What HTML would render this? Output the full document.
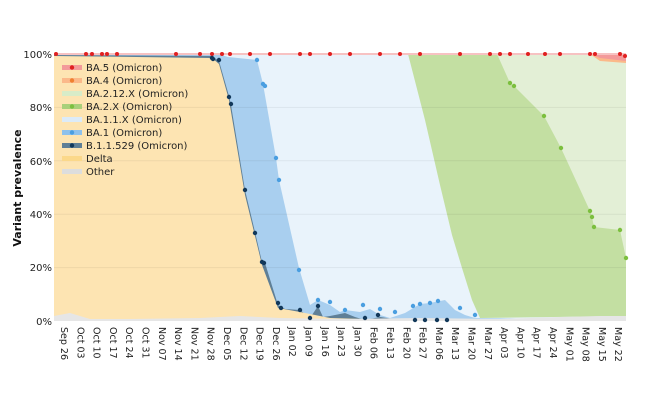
<!DOCTYPE html>
<html><head><meta charset="utf-8"><style>
body{margin:0;background:#fff;}
svg{display:block;font-family:"DejaVu Sans","Liberation Sans",sans-serif;}
</style></head><body>
<svg width="650" height="400" viewBox="0 0 650 400">
<rect x="54" y="54" width="572" height="267" fill="#f39a9a"/>
<polygon fill="#fbb98a" points="54,54 590,54 600,58 626,61 626,321 54,321"/>
<polygon fill="#e3efd6" points="54,54 590,54 600,61 626,63 626,321 54,321"/>
<polygon fill="#c3dfa2" points="54,54 497,54 510,83 514,86 544,116 561,148 590,211 592,217 594,227 620,230 626,258 626,321 54,321"/>
<polygon fill="#e9f3fb" points="54,54 408,54 425,120 440,185 452,235 462,268 472,300 480,318 626,316 626,321 54,321"/>
<polygon fill="#a9cfef" points="54,54 218,54 228,57 257,60 263,84 276,158 279,180 299,268 310,305 318,300 323,302 330,305 340,312 345,310 360,312 370,309 380,315 390,318 405,313 420,304 430,303 445,300 455,310 465,315 475,318 626,320 626,321 54,321"/>
<polygon fill="#5f7f96" points="54,55 212,56 219,61 229,96 231,105 245,190 255,232 262,262 265,263 278,305 285,309 300,310 310,318 318,306 323,317 330,316 345,313 355,317 365,320 380,317 400,320 420,319 626,320 626,321 54,321"/>
<polygon fill="#fde4b2" points="54,56 212,58 219,64 229,100 245,195 255,236 262,265 278,308 300,312 330,318 400,320 626,321 54,321"/>
<polygon fill="#e6e6e6" points="54,316 70,313 90,319 130,319 200,318 240,316 280,318 350,319 420,318 500,319 560,317 600,316 626,316 626,321 54,321"/>
<g stroke="#000" stroke-opacity="0.06"><line x1="54" x2="626" y1="107.4" y2="107.4"/><line x1="54" x2="626" y1="160.8" y2="160.8"/><line x1="54" x2="626" y1="214.2" y2="214.2"/><line x1="54" x2="626" y1="267.6" y2="267.6"/></g>
<line x1="54" x2="626" y1="54" y2="54" stroke="#f7c2c2" stroke-width="2"/>
<g fill="#e02020"><circle cx="56" cy="54" r="2"/><circle cx="86" cy="54" r="2"/><circle cx="92" cy="54" r="2"/><circle cx="102" cy="54" r="2"/><circle cx="107" cy="54" r="2"/><circle cx="117" cy="54" r="2"/><circle cx="176" cy="54" r="2"/><circle cx="200" cy="54" r="2"/><circle cx="212" cy="54" r="2"/><circle cx="222" cy="54" r="2"/><circle cx="230" cy="54" r="2"/><circle cx="250" cy="54" r="2"/><circle cx="270" cy="54" r="2"/><circle cx="300" cy="54" r="2"/><circle cx="310" cy="54" r="2"/><circle cx="330" cy="54" r="2"/><circle cx="350" cy="54" r="2"/><circle cx="380" cy="54" r="2"/><circle cx="400" cy="54" r="2"/><circle cx="420" cy="54" r="2"/><circle cx="460" cy="54" r="2"/><circle cx="490" cy="54" r="2"/><circle cx="500" cy="54" r="2"/><circle cx="510" cy="54" r="2"/><circle cx="528" cy="54" r="2"/><circle cx="545" cy="54" r="2"/><circle cx="560" cy="54" r="2"/><circle cx="590" cy="54" r="2"/><circle cx="595" cy="54" r="2"/><circle cx="620" cy="54" r="2"/><circle cx="625" cy="56" r="2"/></g>
<g fill="#12385a"><circle cx="212" cy="58" r="2.2"/><circle cx="213" cy="59" r="2.2"/><circle cx="219" cy="60" r="2.2"/><circle cx="229" cy="97" r="2.2"/><circle cx="231" cy="104" r="2.2"/><circle cx="245" cy="190" r="2.2"/><circle cx="255" cy="233" r="2.2"/><circle cx="262" cy="262" r="2.2"/><circle cx="264" cy="263" r="2.2"/><circle cx="278" cy="303" r="2.2"/><circle cx="281" cy="308" r="2.2"/><circle cx="300" cy="310" r="2.2"/><circle cx="310" cy="318" r="2.2"/><circle cx="318" cy="306" r="2.2"/><circle cx="365" cy="318" r="2.2"/><circle cx="378" cy="315" r="2.2"/><circle cx="415" cy="320" r="2.2"/><circle cx="425" cy="320" r="2.2"/><circle cx="437" cy="320" r="2.2"/><circle cx="447" cy="320" r="2.2"/></g>
<g fill="#4a9ee0"><circle cx="257" cy="60" r="2.2"/><circle cx="263" cy="84" r="2.2"/><circle cx="265" cy="86" r="2.2"/><circle cx="276" cy="158" r="2.2"/><circle cx="279" cy="180" r="2.2"/><circle cx="299" cy="270" r="2.2"/><circle cx="318" cy="300" r="2.2"/><circle cx="330" cy="302" r="2.2"/><circle cx="345" cy="310" r="2.2"/><circle cx="363" cy="305" r="2.2"/><circle cx="380" cy="309" r="2.2"/><circle cx="395" cy="312" r="2.2"/><circle cx="413" cy="306" r="2.2"/><circle cx="420" cy="304" r="2.2"/><circle cx="430" cy="303" r="2.2"/><circle cx="438" cy="301" r="2.2"/><circle cx="460" cy="308" r="2.2"/><circle cx="475" cy="315" r="2.2"/></g>
<g fill="#7cbf3e"><circle cx="510" cy="83" r="2.2"/><circle cx="514" cy="86" r="2.2"/><circle cx="544" cy="116" r="2.2"/><circle cx="561" cy="148" r="2.2"/><circle cx="590" cy="211" r="2.2"/><circle cx="592" cy="217" r="2.2"/><circle cx="594" cy="227" r="2.2"/><circle cx="620" cy="230" r="2.2"/><circle cx="626" cy="258" r="2.2"/></g>
<g font-size="10" fill="#222" text-anchor="end"><text x="52" y="58">100%</text><text x="52" y="111">80%</text><text x="52" y="165">60%</text><text x="52" y="218">40%</text><text x="52" y="271">20%</text><text x="52" y="325">0%</text></g>
<text transform="translate(21,188) rotate(-90)" text-anchor="middle" font-size="11" font-weight="bold" fill="#111">Variant prevalence</text>
<g font-size="10" fill="#222">
<g><rect x="62" y="65" width="20" height="5" fill="#f39a9a"/><circle cx="72" cy="67.5" r="2.2" fill="#e02020"/><text x="86" y="71">BA.5 (Omicron)</text></g>
<g><rect x="62" y="78" width="20" height="5" fill="#fbb98a"/><circle cx="72" cy="80.5" r="2.2" fill="#f08030"/><text x="86" y="84">BA.4 (Omicron)</text></g>
<g><rect x="62" y="91" width="20" height="5" fill="#d8ecc8"/><text x="86" y="97">BA.2.12.X (Omicron)</text></g>
<g><rect x="62" y="104" width="20" height="5" fill="#a9d07a"/><circle cx="72" cy="106.5" r="2.2" fill="#7cbf3e"/><text x="86" y="110">BA.2.X (Omicron)</text></g>
<g><rect x="62" y="117" width="20" height="5" fill="#dcebf8"/><text x="86" y="123">BA.1.1.X (Omicron)</text></g>
<g><rect x="62" y="130" width="20" height="5" fill="#8ec1ec"/><circle cx="72" cy="132.5" r="2.2" fill="#4a9ee0"/><text x="86" y="136">BA.1 (Omicron)</text></g>
<g><rect x="62" y="143" width="20" height="5" fill="#5f7f96"/><circle cx="72" cy="145.5" r="2.2" fill="#12385a"/><text x="86" y="149">B.1.1.529 (Omicron)</text></g>
<g><rect x="62" y="156" width="20" height="5" fill="#fbd88a"/><text x="86" y="162">Delta</text></g>
<g><rect x="62" y="169" width="20" height="5" fill="#dddddd"/><text x="86" y="175">Other</text></g>
</g>
<g font-size="9.5" fill="#222">
<text transform="translate(61,327) rotate(90)">Sep 26</text><text transform="translate(77.3,327) rotate(90)">Oct 03</text><text transform="translate(93.6,327) rotate(90)">Oct 10</text><text transform="translate(109.9,327) rotate(90)">Oct 17</text><text transform="translate(126.2,327) rotate(90)">Oct 24</text><text transform="translate(142.5,327) rotate(90)">Oct 31</text><text transform="translate(158.8,327) rotate(90)">Nov 07</text><text transform="translate(175.1,327) rotate(90)">Nov 14</text><text transform="translate(191.4,327) rotate(90)">Nov 21</text><text transform="translate(207.7,327) rotate(90)">Nov 28</text><text transform="translate(224,327) rotate(90)">Dec 05</text><text transform="translate(240.3,327) rotate(90)">Dec 12</text><text transform="translate(256.6,327) rotate(90)">Dec 19</text><text transform="translate(272.9,327) rotate(90)">Dec 26</text><text transform="translate(289.2,327) rotate(90)">Jan 02</text><text transform="translate(305.5,327) rotate(90)">Jan 09</text><text transform="translate(321.8,327) rotate(90)">Jan 16</text><text transform="translate(338.1,327) rotate(90)">Jan 23</text><text transform="translate(354.4,327) rotate(90)">Jan 30</text><text transform="translate(370.7,327) rotate(90)">Feb 06</text><text transform="translate(387,327) rotate(90)">Feb 13</text><text transform="translate(403.3,327) rotate(90)">Feb 20</text><text transform="translate(419.6,327) rotate(90)">Feb 27</text><text transform="translate(435.9,327) rotate(90)">Mar 06</text><text transform="translate(452.2,327) rotate(90)">Mar 13</text><text transform="translate(468.5,327) rotate(90)">Mar 20</text><text transform="translate(484.8,327) rotate(90)">Mar 27</text><text transform="translate(501.1,327) rotate(90)">Apr 03</text><text transform="translate(517.4,327) rotate(90)">Apr 10</text><text transform="translate(533.7,327) rotate(90)">Apr 17</text><text transform="translate(550,327) rotate(90)">Apr 24</text><text transform="translate(566.3,327) rotate(90)">May 01</text><text transform="translate(582.6,327) rotate(90)">May 08</text><text transform="translate(598.9,327) rotate(90)">May 15</text><text transform="translate(615.2,327) rotate(90)">May 22</text>
</g>
</svg>
</body></html>
